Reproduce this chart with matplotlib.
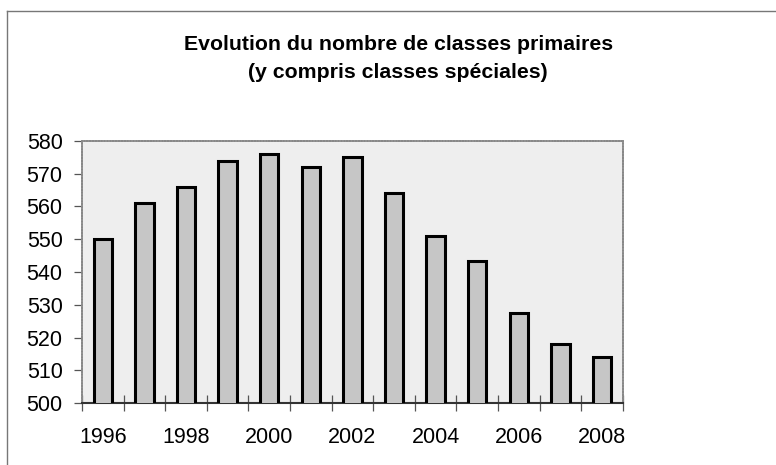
import matplotlib
matplotlib.use("Agg")
import matplotlib.pyplot as plt
from matplotlib.lines import Line2D
import numpy as np

plt.rcParams['font.family'] = ['Liberation Sans', 'DejaVu Sans']

years = [1996, 1997, 1998, 1999, 2000, 2001, 2002, 2003, 2004, 2005, 2006, 2007, 2008]
classes = [550, 561, 566, 574, 576, 572, 575, 564, 551, 543.5, 527.5, 518, 514]
year_labels = ["1996", "", "1998", "", "2000", "", "2002", "", "2004", "", "2006", "", "2008"]
title_text = "Evolution du nombre de classes primaires\n(y compris classes spéciales)"

fig = plt.figure(figsize=(7.76, 4.65), dpi=100)
ax = fig.add_axes([0.1057, 0.1333, 0.6968, 0.5635])
ax.set_facecolor('#eeeeee')

x = np.arange(len(years))
ax.bar(x, classes, width=0.44, color='#c6c6c6', edgecolor='black', linewidth=2.2, zorder=3)

ax.set_xlim(-0.5, len(years) - 0.5)
ax.set_ylim(500, 580)
ax.set_yticks(np.arange(500, 581, 10))

# category labels at bar centers, tick marks at boundaries
ax.set_xticks(x)
ax.set_xticklabels(year_labels)
ax.tick_params(axis='x', which='major', length=0, pad=17, labelsize=15.5)
ax.set_xticks(np.arange(-0.5, len(years), 1.0), minor=True)
ax.tick_params(axis='x', which='minor', direction='inout', length=12, width=0.9, color='#555555')
ax.tick_params(axis='y', direction='out', length=6, width=0.9, pad=8, labelsize=15.5, color='#555555')

for side in ['top', 'right', 'left']:
    ax.spines[side].set_color('#888888')
    ax.spines[side].set_linewidth(1.3)
    ax.spines[side].set_linestyle((0, (1, 0.6)))
ax.spines['bottom'].set_color('#333333')
ax.spines['bottom'].set_linewidth(1.5)

fig.text(0.513, 0.874, title_text, ha='center', va='center', fontsize=15.3,
         fontweight='bold', linespacing=1.55)

# outer chart frame (top and left edges visible)
fig.add_artist(Line2D([7 / 776, 1.0], [1 - 11 / 465, 1 - 11 / 465], color='#777777', lw=1.0))
fig.add_artist(Line2D([7 / 776, 7 / 776], [0.0, 1 - 11 / 465], color='#777777', lw=1.0))

fig.savefig("out.png", dpi=100)
